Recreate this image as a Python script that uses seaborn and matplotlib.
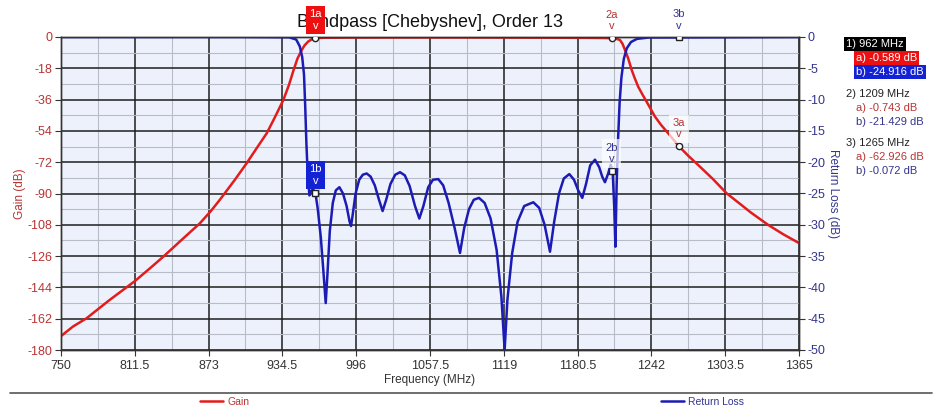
import numpy as np
import pandas as pd
import matplotlib
matplotlib.use('Agg')
import matplotlib.pyplot as plt
from matplotlib.lines import Line2D
from matplotlib.ticker import MultipleLocator, FixedLocator, FuncFormatter
import seaborn as sns

# --- values ---
gain_freq = [750, 760, 771.4, 790, 811.7, 825, 835.3, 850, 865.8, 875, 882.5, 895,
             904.7, 913, 921.4, 928, 935.3, 940, 943.6, 947, 950.6, 953, 956, 959,
             962, 970, 990, 1040, 1100, 1150, 1190, 1204, 1209, 1212.5, 1215.8, 1218,
             1220, 1222.5, 1225.6, 1228, 1231, 1234.5, 1238, 1241.5, 1245, 1250, 1256,
             1265, 1273, 1282.5, 1293, 1304.7, 1315, 1325, 1339.4, 1352, 1365]
gain_db = [-172, -166.5, -161.7, -151.5, -140.3, -132.5, -126.3, -117, -107.1, -100, -93.5, -82,
           -72.6, -64, -55.4, -46.5, -36.2, -27.5, -19.5, -12.5, -7.5, -4.8, -2.6, -1.3,
           -0.59, -0.45, -0.35, -0.3, -0.32, -0.4, -0.5, -0.6, -0.74, -1.0, -1.7, -4,
           -7.5, -12, -19, -23.5, -28.6, -33, -37.2, -41.5, -45.8, -50.5, -55.4,
           -62.9, -68.5, -74.6, -81.5, -89.9, -95.5, -101, -108.1, -113.5, -118.5]

rl_freq = [750, 900, 940, 946, 949, 951, 952.5, 953.5, 954.5, 955.5, 957, 958.5, 960, 962,
           964, 966.5, 968.5, 970.6, 972, 974, 976.5, 979, 982, 985, 988, 990.5, 991.7,
           993, 995.5, 998.5, 1001.5, 1004.7, 1008, 1011.5, 1015, 1018, 1021, 1024.5,
           1028.5, 1032.5, 1036.5, 1040.5, 1045, 1048.6, 1052, 1056, 1060, 1064.4, 1068.5,
           1073, 1078, 1082.5, 1086, 1090, 1094, 1098.3, 1103, 1108, 1113, 1117, 1119.7,
           1122, 1126, 1130.5, 1136, 1143.6, 1148.5, 1153, 1157.5, 1161, 1165, 1169,
           1173.6, 1177.5, 1181, 1184.4, 1187.5, 1191, 1195, 1198.5, 1201, 1203.3, 1206,
           1208, 1209.7, 1211, 1212, 1213, 1213.5, 1214.3, 1215.5, 1217, 1219, 1221.5,
           1225, 1230, 1240, 1265, 1365]
rl_db = [0, 0, -0.05, -0.4, -1.5, -3.2, -6, -11, -17, -21.5, -25.3, -24.6, -24.3, -24.9,
         -27.5, -32, -37, -42.5, -38, -31, -26.5, -24.5, -24.0, -25.0, -27, -29.5, -30.2,
         -28.5, -25, -22.8, -22.0, -21.8, -22.3, -23.7, -26, -27.8, -26, -23.5,
         -22, -21.6, -22.1, -23.8, -27, -29, -27, -24, -22.8, -22.7, -23.7,
         -26.5, -30.5, -34.5, -30.5, -27.5, -26, -25.7, -26.5, -29, -34, -41.5, -50,
         -42, -34.5, -29.5, -27, -26.4, -27.3, -30, -34.3, -29.5, -25, -22.6,
         -21.9, -22.8, -24.5, -25.7, -23.5, -20.5, -19.6, -20.8, -22.3, -23.2, -21.8,
         -20.4, -21.4, -27, -33.5, -24, -20.5, -16, -10.5, -6.5, -3.5, -1.8,
         -0.8, -0.3, -0.08, -0.07, 0]

freq_ticks = [750, 811.5, 873, 934.5, 996, 1057.5, 1119, 1180.5, 1242, 1303.5, 1365]

marker_ids = ['1', '2', '3']
marker_freq = [962, 1209, 1265]
marker_gain = [-0.589, -0.743, -62.926]
marker_rl = [-24.916, -21.429, -0.072]

title = 'Bandpass [Chebyshev], Order 13'

RED = '#e21c1c'
BLUE = '#1c1cb4'
RED_BOX = '#ee1010'
BLUE_BOX = '#1222d4'
RED_TXT = '#b83434'
BLUE_TXT = '#34348e'

sns.set_style('ticks')
plt.rcParams['font.family'] = ['Liberation Sans', 'DejaVu Sans']
plt.rcParams['axes.unicode_minus'] = False

gain_df = pd.DataFrame({'freq': gain_freq, 'gain': gain_db})
rl_df = pd.DataFrame({'freq': rl_freq, 'rl': rl_db})

fig = plt.figure(figsize=(9.37, 4.09), dpi=100)
ax = fig.add_axes([61 / 937, 1 - 350 / 409, 738 / 937, 313 / 409])
ax2 = ax.twinx()

sns.lineplot(data=gain_df, x='freq', y='gain', ax=ax, color=RED, lw=1.8,
             estimator=None, legend=False)
sns.lineplot(data=rl_df, x='freq', y='rl', ax=ax2, color=BLUE, lw=1.8,
             estimator=None, legend=False)

# --- axes / grid ---
ax.set_facecolor('#edf1fb')
ax.set_xlim(freq_ticks[0], freq_ticks[-1])
ax.set_ylim(-180, 0)
ax2.set_ylim(-50, 0)
minor_x = [(a + b) / 2 for a, b in zip(freq_ticks[:-1], freq_ticks[1:])]
ax.xaxis.set_major_locator(FixedLocator(freq_ticks))
ax.xaxis.set_minor_locator(FixedLocator(minor_x))
ax.yaxis.set_major_locator(MultipleLocator(18))
ax.yaxis.set_minor_locator(MultipleLocator(9))
ax2.yaxis.set_major_locator(MultipleLocator(5))
ax.xaxis.set_major_formatter(FuncFormatter(lambda v, p: f'{v:g}'))
ax.grid(which='major', color='#1e1e1e', lw=1.1)
ax.grid(which='minor', color='#b8bcc8', lw=0.8)
ax.set_axisbelow(True)
ax2.grid(False)

ax.tick_params(axis='x', which='major', length=4, color='#333333', labelsize=9,
               labelcolor='#333333', pad=3)
ax.tick_params(axis='y', which='major', length=4, color='#333333', labelsize=9,
               labelcolor=RED_TXT, pad=2)
ax.tick_params(which='minor', length=0)
ax2.tick_params(axis='y', length=4, color='#333333', labelsize=9,
                labelcolor=BLUE_TXT, pad=2)
for a in (ax, ax2):
    for s in a.spines.values():
        s.set_color('#333333')
        s.set_linewidth(1.0)

ax.set_xlabel('Frequency (MHz)', fontsize=8.5, color='#333333', labelpad=2)
ax.set_ylabel('Gain (dB)', fontsize=8.5, color=RED_TXT, labelpad=1)
ax2.set_ylabel('Return Loss (dB)', fontsize=8.5, color=BLUE_TXT, rotation=270,
               va='bottom', labelpad=1)
ax.set_title(title, fontsize=13, pad=7, color='#111111')

# --- markers (drawn on ax2 so they sit above both curves) ---
for i, mid in enumerate(marker_ids):
    f = marker_freq[i]
    first = (i == 0)
    # gain marker on the gain scale
    ax2.plot([f], [marker_gain[i]], transform=ax.transData, marker='o', ms=4.5,
             mfc='white', mec='#222222', mew=1, zorder=6)
    ax2.annotate(f'{mid}a\nv', xy=(f, marker_gain[i]), xycoords=ax.transData,
                 xytext=(0, 5), textcoords='offset points', ha='center', va='bottom',
                 fontsize=8, linespacing=1.2, color='white' if first else RED_TXT,
                 annotation_clip=False, zorder=7,
                 bbox=dict(boxstyle='square,pad=0.3', fc=RED_BOX if first else 'white',
                           ec='none', alpha=1 if first else 0.7))
    ax2.plot([f], [marker_rl[i]], marker='s', ms=4.5, mfc='white', mec='#222222',
             mew=1, zorder=6)
    ax2.annotate(f'{mid}b\nv', xy=(f, marker_rl[i]), xytext=(0, 5),
                 textcoords='offset points', ha='center', va='bottom',
                 fontsize=8, linespacing=1.2, color='white' if first else BLUE_TXT,
                 annotation_clip=False, zorder=7,
                 bbox=dict(boxstyle='square,pad=0.3', fc=BLUE_BOX if first else 'white',
                           ec='none', alpha=1 if first else 0.7))

# --- marker readout panel on the right ---
group_top = [44, 94, 143]
for i, mid in enumerate(marker_ids):
    y0 = group_top[i]
    first = (i == 0)
    fig.text(846 / 937, 1 - y0 / 409, f'{mid}) {marker_freq[i]} MHz', fontsize=8,
             va='center', ha='left', color='white' if first else '#222222',
             bbox=dict(boxstyle='square,pad=0.2', fc='black', ec='none') if first else None)
    fig.text(856 / 937, 1 - (y0 + 14) / 409, f'a) {marker_gain[i]:.3f} dB', fontsize=8,
             va='center', ha='left', color='white' if first else RED_TXT,
             bbox=dict(boxstyle='square,pad=0.2', fc=RED_BOX, ec='none') if first else None)
    fig.text(856 / 937, 1 - (y0 + 28) / 409, f'b) {marker_rl[i]:.3f} dB', fontsize=8,
             va='center', ha='left', color='white' if first else BLUE_TXT,
             bbox=dict(boxstyle='square,pad=0.2', fc=BLUE_BOX, ec='none') if first else None)

# --- bottom legend with separator ---
fig.add_artist(Line2D([10 / 937, 932 / 937], [1 - 393 / 409, 1 - 393 / 409],
                      color='#555555', lw=1.2))
h_gain = Line2D([], [], color=RED, lw=1.8, label='Gain')
h_rl = Line2D([], [], color=BLUE, lw=1.8, label='Return Loss')
fig.legend(handles=[h_gain], loc='center left', bbox_to_anchor=(200 / 937, 1 - 402 / 409),
           frameon=False, fontsize=7.5, borderpad=0, borderaxespad=0, handlelength=2.2,
           handletextpad=0.4, labelcolor=RED_TXT)
fig.legend(handles=[h_rl], loc='center left', bbox_to_anchor=(661 / 937, 1 - 402 / 409),
           frameon=False, fontsize=7.5, borderpad=0, borderaxespad=0, handlelength=2.2,
           handletextpad=0.4, labelcolor=BLUE_TXT)

fig.savefig('out.png', dpi=100)
